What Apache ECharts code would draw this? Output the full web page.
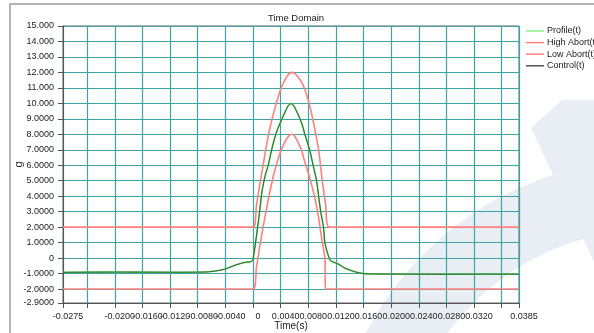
<!DOCTYPE html>
<html>
<head>
<meta charset="utf-8">
<script src="https://cdn.jsdelivr.net/npm/echarts@6/dist/echarts.min.js"></script>
<style>html,body{margin:0;padding:0;background:#fff;}#c{width:594px;height:333px;}</style>
</head>
<body>
<div id="c"></div>
<script>
// ---- data ----
const seriesNames = ['Profile(t)', 'High Abort(t)', 'Low Abort(t)', 'Control(t)'];

const profileT = [-0.0275, -0.0200, -0.0120, -0.0070, -0.0054, -0.0040, -0.0025, -0.0011, -0.0003, 0.0000, 0.0004, 0.0009, 0.0013, 0.0018, 0.0022, 0.0027, 0.0033, 0.0038, 0.0042, 0.0047, 0.0051, 0.0055, 0.0059, 0.0063, 0.0068, 0.0072, 0.0075, 0.0082, 0.0087, 0.0092, 0.0095, 0.0098, 0.0102, 0.0104, 0.0108, 0.0112, 0.0119, 0.0124, 0.0132, 0.0139, 0.0149, 0.0160, 0.0175, 0.0220, 0.0280, 0.0340, 0.0385];
const profileV = [-0.91, -0.90, -0.91, -0.90, -0.83, -0.70, -0.44, -0.27, -0.23, -0.05, 1.10, 2.80, 4.30, 5.40, 6.00, 7.00, 8.00, 8.60, 9.00, 9.50, 9.85, 10.00, 9.85, 9.50, 9.00, 8.50, 8.00, 7.00, 6.00, 5.00, 4.00, 3.00, 2.00, 1.00, 0.30, -0.15, -0.30, -0.40, -0.62, -0.75, -0.90, -1.00, -1.02, -1.03, -1.03, -1.03, -1.03];

const controlT = [-0.0275, -0.0200, -0.0120, -0.0070, -0.0054, -0.0040, -0.0025, -0.0011, -0.0003, 0.0000, 0.0004, 0.0009, 0.0013, 0.0018, 0.0022, 0.0027, 0.0033, 0.0038, 0.0042, 0.0047, 0.0051, 0.0055, 0.0059, 0.0063, 0.0068, 0.0072, 0.0075, 0.0082, 0.0087, 0.0092, 0.0095, 0.0098, 0.0102, 0.0104, 0.0108, 0.0112, 0.0119, 0.0124, 0.0132, 0.0139, 0.0149, 0.0160, 0.0175, 0.0220, 0.0280, 0.0340, 0.0385];
const controlV = [-0.92, -0.90, -0.91, -0.90, -0.83, -0.70, -0.44, -0.27, -0.23, -0.05, 1.10, 2.80, 4.30, 5.40, 6.00, 7.00, 8.00, 8.60, 9.00, 9.50, 9.85, 9.98, 9.85, 9.50, 9.00, 8.50, 8.00, 7.00, 6.00, 5.00, 4.00, 3.00, 2.00, 1.00, 0.30, -0.15, -0.30, -0.40, -0.62, -0.75, -0.90, -1.00, -1.03, -1.04, -1.05, -1.04, -1.05];

const highT = [-0.0275, 0.0000, 0.0005, 0.0010, 0.0015, 0.0020, 0.0025, 0.0030, 0.0035, 0.0040, 0.0045, 0.0050, 0.0056, 0.0060, 0.0065, 0.0070, 0.0075, 0.0080, 0.0085, 0.0090, 0.0095, 0.0100, 0.0105, 0.0110, 0.0385];
const highV = [2.0, 2.0, 3.4, 4.8, 6.1, 7.4, 8.5, 9.4, 10.2, 10.9, 11.4, 11.8, 12.0, 11.95, 11.7, 11.4, 10.9, 10.2, 9.3, 8.2, 7.0, 5.1, 3.5, 2.0, 2.0];

const lowT = [-0.0275, 0.0000, 0.0005, 0.0010, 0.0015, 0.0020, 0.0025, 0.0030, 0.0035, 0.0040, 0.0045, 0.0050, 0.0056, 0.0060, 0.0065, 0.0070, 0.0075, 0.0080, 0.0085, 0.0090, 0.0095, 0.0100, 0.0104, 0.0105, 0.0385];
const lowV = [-2.0, -2.0, -0.6, 0.8, 2.1, 3.3, 4.4, 5.4, 6.2, 6.9, 7.4, 7.8, 8.0, 7.9, 7.5, 7.0, 6.2, 5.5, 4.7, 3.8, 2.6, 1.1, 0.0, -2.0, -2.0];

const xTicks = [-0.0275, -0.0240, -0.0200, -0.0160, -0.0120, -0.0080, -0.0040, 0, 0.0040, 0.0080, 0.0120, 0.0160, 0.0200, 0.0240, 0.0280, 0.0320, 0.0360, 0.0385];
const xTickLabels = [-0.0275, -0.0200, -0.0160, -0.0120, -0.0080, -0.0040, 0, 0.0040, 0.0080, 0.0120, 0.0160, 0.0200, 0.0240, 0.0280, 0.0320, 0.0385];
const yTicks = [-2.9, -2, -1, 0, 1, 2, 3, 4, 5, 6, 7, 8, 9, 10, 11, 12, 13, 14, 15];

// ---- chart ----
const zip = (t, v) => t.map((x, i) => [x, v[i]]);
const chart = echarts.init(document.getElementById('c'), null, {renderer: 'canvas'});
const font = 'Liberation Sans, Arial, sans-serif';
const gridColor = '#3fa3a3';
const abortColor = '#ff8080';
const legendColors = ['#8ef08e', '#ff8080', '#ff8080', '#555555'];

chart.setOption({
  animation: false,
  backgroundColor: '#ffffff',
  title: {
    text: 'Time Domain', left: 291, top: 8, textAlign: 'center',
    textStyle: {fontSize: 9.5, fontWeight: 'normal', color: '#222', fontFamily: font}
  },
  graphic: [
    {type: 'sector', z: -100, silent: true,
     shape: {cx: 650, cy: 480, r: 320, r0: 250, startAngle: Math.PI, endAngle: 1.5 * Math.PI},
     style: {fill: '#e9eef5'}},
    {type: 'polygon', z: -100, silent: true,
     shape: {points: [[531, 128], [562, 100], [594, 100], [594, 262]]},
     style: {fill: '#e9eef5'}},
    {type: 'rect', z: 100, silent: true,
     shape: {x: 10, y: 4, width: 700, height: 400},
     style: {fill: 'none', stroke: '#b4b4b4', lineWidth: 2}}
  ],
  legend: {
    orient: 'vertical', left: 526, top: 26, padding: 0, itemWidth: 18, itemHeight: 1.5, itemGap: 1.6,
    icon: 'rect',
    data: seriesNames.map((n, i) => ({name: n, itemStyle: {color: legendColors[i]}})),
    textStyle: {fontSize: 9, lineHeight: 10, color: '#222', fontFamily: font, padding: [0, 0, 0, -2]}
  },
  grid: {left: 63, right: 75, top: 26, bottom: 30, outerBoundsMode: 'none', containLabel: false,
         show: true, borderColor: '#666', borderWidth: 1, backgroundColor: 'transparent'},
  xAxis: {
    type: 'value', min: -0.0275, max: 0.0385, z: 0,
    name: 'Time(s)', nameLocation: 'middle', nameGap: 18, nameMoveOverlap: false,
    nameTextStyle: {fontSize: 10, color: '#222', fontFamily: font},
    axisLine: {show: true, onZero: false, lineStyle: {color: '#555'}},
    axisTick: {show: true, inside: false, length: 5, customValues: xTicks, lineStyle: {color: '#555'}},
    axisLabel: {
      customValues: xTickLabels, margin: 9, fontSize: 9, color: '#222', fontFamily: font,
      padding: [0, 0, 0, 10], hideOverlap: false,
      formatter: v => (Math.abs(v) < 1e-12 ? '0' : v.toFixed(4))
    },
    splitLine: {show: true, lineStyle: {color: gridColor, width: 1.2}}
  },
  yAxis: {
    type: 'value', min: -2.9, max: 15, z: 0,
    name: 'g', nameLocation: 'middle', nameGap: 39, nameRotate: 90, nameMoveOverlap: false,
    nameTextStyle: {fontSize: 11, color: '#222', fontFamily: font},
    axisLine: {show: true, onZero: false, lineStyle: {color: '#555'}},
    axisTick: {show: true, inside: false, length: 5, customValues: yTicks, lineStyle: {color: '#555'}},
    axisLabel: {
      customValues: yTicks, margin: 9, fontSize: 9, color: '#222', fontFamily: font, hideOverlap: false,
      formatter: v => {
        if (Math.abs(v) < 1e-12) return '0';
        return Math.abs(v) >= 10 ? v.toFixed(3) : v.toFixed(4);
      }
    },
    splitLine: {show: true, lineStyle: {color: gridColor, width: 1.2}}
  },
  series: [
    {name: seriesNames[0], type: 'line', data: zip(profileT, profileV), symbol: 'none', showSymbol: false,
     smooth: 0.25, lineStyle: {color: '#5fd35f', width: 1.6}, itemStyle: {color: legendColors[0]}, z: 11},
    {name: seriesNames[1], type: 'line', data: zip(highT, highV), symbol: 'none', showSymbol: false,
     smooth: 0.3, lineStyle: {color: abortColor, width: 1.6}, itemStyle: {color: abortColor}, z: 10},
    {name: seriesNames[2], type: 'line', data: zip(lowT, lowV), symbol: 'none', showSymbol: false,
     smooth: 0.3, lineStyle: {color: abortColor, width: 1.6}, itemStyle: {color: abortColor}, z: 10},
    {name: seriesNames[3], type: 'line', data: zip(controlT, controlV), symbol: 'none', showSymbol: false,
     smooth: 0.25, lineStyle: {color: 'rgba(30,60,30,0.7)', width: 1}, itemStyle: {color: legendColors[3]}, z: 12}
  ]
});
</script>
</body>
</html>
